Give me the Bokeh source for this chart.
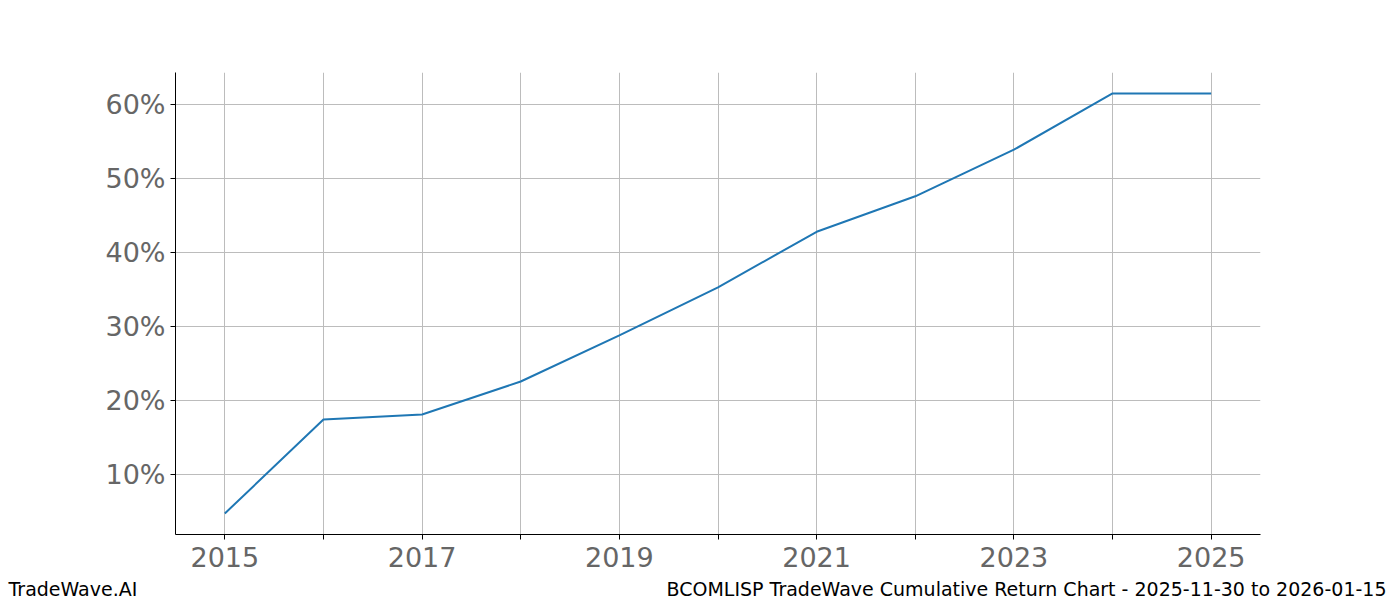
from bokeh.plotting import figure
from bokeh.models import Range1d, FixedTicker, PrintfTickFormatter, Title
from bokeh.embed import file_html
from bokeh.resources import INLINE

years = [2015, 2016, 2017, 2018, 2019, 2020, 2021, 2022, 2023, 2024, 2025]
cum_return = [4.73, 17.43, 18.1, 22.57, 28.8, 35.3, 42.8, 47.6, 53.9, 61.5, 61.5]
y_ticks = [10, 20, 30, 40, 50, 60]
footer_left = "TradeWave.AI"
footer_right = "BCOMLISP TradeWave Cumulative Return Chart - 2025-11-30 to 2026-01-15"

p = figure(width=1400, height=600, output_backend="svg", toolbar_location=None,
           x_range=Range1d(2014.5, 2025.5), y_range=Range1d(1.89, 64.33),
           min_border_left=175, min_border_right=140, min_border_top=72, min_border_bottom=66)
p.outline_line_color = None

p.line(years, cum_return, line_color="#1f77b4", line_width=2)

p.xaxis.ticker = FixedTicker(ticks=years)
p.xaxis.major_label_overrides = {y: ("" if y % 2 == 0 else str(y)) for y in years}
p.yaxis.ticker = FixedTicker(ticks=y_ticks)
p.yaxis.formatter = PrintfTickFormatter(format="%d%%")

for ax in (p.xaxis, p.yaxis):
    ax.major_label_text_font = "DejaVu Sans"
    ax.major_label_text_font_size = "27px"
    ax.major_label_text_color = "#666666"
    ax.axis_line_color = "black"
    ax.axis_line_width = 1
    ax.major_tick_line_color = "black"
    ax.major_tick_out = 5
    ax.major_tick_in = 0
    ax.minor_tick_line_color = None
    ax.major_label_standoff = 5
p.xaxis.major_label_standoff = 7

p.grid.grid_line_color = "#bcbcbc"
p.grid.grid_line_width = 1

# footer texts as titles under the x axis; a negative standoff pushes the text
# down without taking room from the plot frame
for text, align, offset in [(footer_left, "left", -167), (footer_right, "right", -126)]:
    p.add_layout(Title(text=text, align=align, offset=offset, standoff=-60,
                       vertical_align="bottom",
                       text_font="DejaVu Sans", text_font_size="19px",
                       text_font_style="normal", text_color="black"), "below")

open("out.html", "w").write(file_html(p, INLINE))
